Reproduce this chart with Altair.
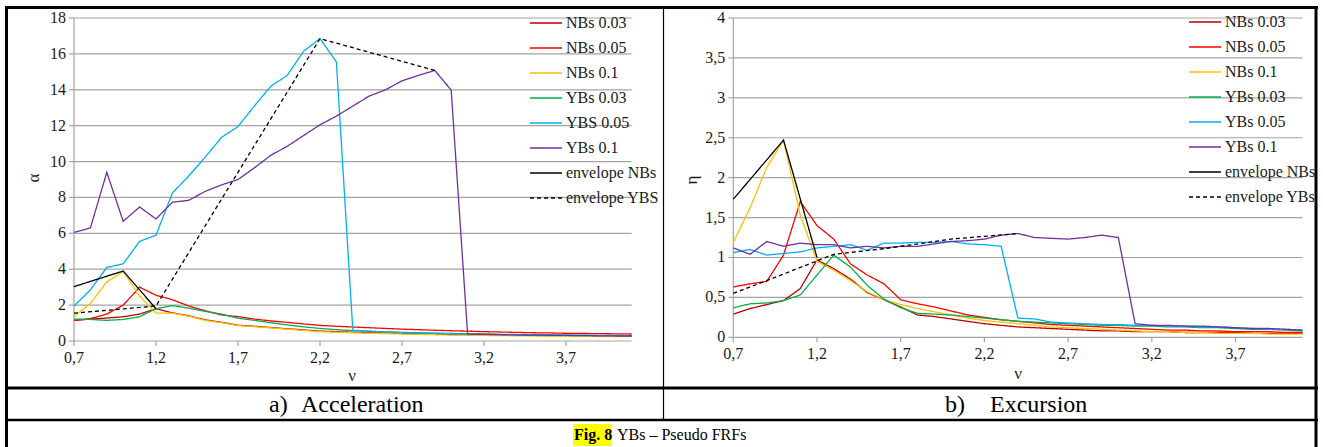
import altair as alt
import pandas as pd

# ---------------------------------------------------------------- data
NU = [0.7, 0.8, 0.9, 1.0, 1.1, 1.2, 1.3, 1.4, 1.5, 1.6, 1.7, 1.8, 1.9, 2.0,
      2.1, 2.2, 2.3, 2.4, 2.5, 2.6, 2.7, 2.8, 2.9, 3.0, 3.1, 3.2, 3.3, 3.4,
      3.5, 3.6, 3.7, 3.8, 3.9, 4.0, 4.1]

# a) Acceleration (alpha)
ACC_NBS_003 = [1.15, 1.22, 1.28, 1.35, 1.5, 1.8, 1.57, 1.4, 1.18, 1.04, 0.88, 0.82,
               0.75, 0.68, 0.62, 0.55, 0.52, 0.49, 0.46, 0.44, 0.42, 0.4, 0.38, 0.36,
               0.35, 0.34, 0.33, 0.32, 0.31, 0.3, 0.29, 0.28, 0.28, 0.27, 0.27]
ACC_NBS_005 = [1.15, 1.25, 1.5, 2.0, 3.0, 2.55, 2.3, 1.95, 1.68, 1.45, 1.36, 1.22,
               1.12, 1.04, 0.95, 0.87, 0.82, 0.78, 0.74, 0.7, 0.66, 0.63, 0.6, 0.57,
               0.55, 0.52, 0.5, 0.48, 0.46, 0.45, 0.43, 0.42, 0.41, 0.4, 0.39]
ACC_NBS_01 = [1.35, 2.1, 3.3, 3.88, 2.5, 1.55, 1.55, 1.38, 1.15, 1.02, 0.86, 0.8,
              0.73, 0.66, 0.59, 0.52, 0.49, 0.46, 0.43, 0.41, 0.39, 0.37, 0.35, 0.33,
              0.32, 0.31, 0.3, 0.29, 0.28, 0.27, 0.26, 0.26, 0.25, 0.25, 0.24]
ACC_YBS_003 = [1.22, 1.2, 1.15, 1.2, 1.35, 1.8, 1.97, 1.83, 1.65, 1.5, 1.27, 1.15,
               1.02, 0.9, 0.79, 0.7, 0.63, 0.58, 0.54, 0.51, 0.48, 0.46, 0.44, 0.42,
               0.4, 0.39, 0.37, 0.36, 0.35, 0.34, 0.33, 0.32, 0.31, 0.31, 0.3]
ACC_YBS_005 = [1.95, 2.85, 4.1, 4.3, 5.55, 5.9, 8.25, 9.2, 10.25, 11.35, 11.95, 13.1,
               14.2, 14.8, 16.15, 16.85, 15.55, 0.6, 0.55, 0.5, 0.47, 0.44, 0.42, 0.4,
               0.38, 0.37, 0.36, 0.35, 0.34, 0.33, 0.32, 0.31, 0.3, 0.3, 0.29]
ACC_YBS_01 = [6.05, 6.3, 9.4, 6.67, 7.47, 6.8, 7.73, 7.84, 8.34, 8.7, 9.0, 9.65,
              10.35, 10.85, 11.45, 12.05, 12.53, 13.09, 13.65, 14.0, 14.5, 14.8, 15.08,
              13.98, 0.39, 0.37, 0.35, 0.34, 0.33, 0.32, 0.31, 0.3, 0.29, 0.28, 0.28]
ACC_ENV_NBS_NU = [0.7, 1.0, 1.2]
ACC_ENV_NBS = [3.03, 3.9, 1.8]
ACC_ENV_YBS_NU = [0.7, 1.2, 2.2, 2.9]
ACC_ENV_YBS = [1.55, 1.95, 16.85, 15.08]

# b) Excursion (eta)
EXC_NBS_003 = [0.29, 0.36, 0.41, 0.46, 0.61, 0.97, 0.86, 0.73, 0.56, 0.47, 0.38, 0.28,
               0.26, 0.23, 0.2, 0.17, 0.15, 0.13, 0.12, 0.11, 0.1, 0.09, 0.08, 0.08,
               0.07, 0.07, 0.07, 0.06, 0.06, 0.06, 0.06, 0.05, 0.05, 0.05, 0.05]
EXC_NBS_005 = [0.63, 0.67, 0.7, 1.03, 1.7, 1.4, 1.23, 0.92, 0.78, 0.67, 0.47, 0.42,
               0.38, 0.33, 0.28, 0.25, 0.22, 0.2, 0.18, 0.16, 0.15, 0.14, 0.13, 0.12,
               0.11, 0.1, 0.09, 0.09, 0.08, 0.08, 0.07, 0.07, 0.07, 0.06, 0.06]
EXC_NBS_01 = [1.19, 1.62, 2.13, 2.47, 1.53, 0.95, 0.84, 0.71, 0.57, 0.47, 0.41, 0.36,
              0.32, 0.28, 0.24, 0.21, 0.19, 0.17, 0.15, 0.13, 0.12, 0.11, 0.1, 0.09,
              0.08, 0.07, 0.07, 0.06, 0.06, 0.05, 0.05, 0.05, 0.04, 0.04, 0.04]
EXC_YBS_003 = [0.37, 0.42, 0.43, 0.46, 0.53, 0.78, 1.03, 0.88, 0.65, 0.48, 0.37, 0.3,
               0.29, 0.28, 0.26, 0.24, 0.22, 0.2, 0.19, 0.18, 0.17, 0.16, 0.15, 0.15,
               0.14, 0.14, 0.13, 0.13, 0.12, 0.12, 0.11, 0.1, 0.1, 0.09, 0.08]
EXC_YBS_005 = [1.06, 1.1, 1.03, 1.05, 1.07, 1.12, 1.14, 1.16, 1.09, 1.18, 1.18, 1.19,
               1.19, 1.2, 1.17, 1.16, 1.14, 0.24, 0.23, 0.19, 0.18, 0.17, 0.16, 0.16,
               0.15, 0.15, 0.14, 0.14, 0.13, 0.13, 0.12, 0.11, 0.1, 0.1, 0.09]
EXC_YBS_01 = [1.12, 1.04, 1.2, 1.14, 1.18, 1.16, 1.16, 1.12, 1.14, 1.12, 1.14, 1.14,
              1.17, 1.2, 1.21, 1.23, 1.28, 1.3, 1.25, 1.24, 1.23, 1.25, 1.28, 1.25,
              0.17, 0.15, 0.15, 0.14, 0.14, 0.13, 0.12, 0.11, 0.11, 0.1, 0.09]
EXC_ENV_NBS_NU = [0.7, 1.0, 1.2]
EXC_ENV_NBS = [1.73, 2.47, 1.0]
EXC_ENV_YBS_NU = [0.7, 0.9, 1.3, 1.6, 2.0, 2.4]
EXC_ENV_YBS = [0.55, 0.71, 1.04, 1.11, 1.23, 1.3]

ACC_NAMES = ["NBs 0.03", "NBs 0.05", "NBs 0.1", "YBs 0.03", "YBS 0.05", "YBs 0.1",
             "envelope NBs", "envelope YBS"]
EXC_NAMES = ["NBs 0.03", "NBs 0.05", "NBs 0.1", "YBs 0.03", "YBs 0.05", "YBs 0.1",
             "envelope NBs", "envelope YBs"]

X_TICKS = [0.7, 1.2, 1.7, 2.2, 2.7, 3.2, 3.7]
X_TICK_LABELS = ["0,7", "1,2", "1,7", "2,2", "2,7", "3,2", "3,7"]
ACC_TICKS = [0, 2, 4, 6, 8, 10, 12, 14, 16, 18]
ACC_TICK_LABELS = ["0", "2", "4", "6", "8", "10", "12", "14", "16", "18"]
EXC_TICKS = [0, 0.5, 1, 1.5, 2, 2.5, 3, 3.5, 4]
EXC_TICK_LABELS = ["0", "0,5", "1", "1,5", "2", "2,5", "3", "3,5", "4"]

CAPTION_A = ["a)", "Acceleration"]
CAPTION_B = ["b)", "Excursion"]
FIG_LABEL = "Fig. 8"
FIG_TEXT = "YBs \u2013 Pseudo FRFs"

# ---------------------------------------------------------------- styling
COLORS = ["#C00000", "#FF0000", "#FFC000", "#00B050", "#00B0F0", "#7030A0",
          "#000000", "#000000"]
DASHES = [[1, 0]] * 7 + [[4, 3]]
SERIF = "Liberation Serif, Times New Roman, serif"
GRID = "#A3A3A3"
TXT = "#1a1a1a"
W, H = 1323, 447

ONE = pd.DataFrame({"k": [0]})


def panel(x_rng, y_dom, y_rng, ticks, tick_labels, series, names,
          leg_x, leg_y0, y_title, y_title_pos, x_title_pos):
    xs = alt.Scale(domain=[0.7, 4.1], range=x_rng, nice=False, zero=False)
    ys = alt.Scale(domain=y_dom, range=y_rng, nice=False, zero=False)

    def X(f):
        return alt.X(f, type="quantitative", scale=xs, axis=None)

    def Y(f):
        return alt.Y(f, type="quantitative", scale=ys, axis=None)

    layers = []
    grid = pd.DataFrame({"v": ticks, "lab": tick_labels, "a": 0.7, "b": 4.1})
    layers.append(alt.Chart(grid).mark_rule(color=GRID, strokeWidth=1.2).encode(
        x=X("a"), x2="b", y=Y("v")))
    axis_df = pd.DataFrame({"a": [0.7], "lo": [y_dom[0]], "hi": [y_dom[1]]})
    layers.append(alt.Chart(axis_df).mark_rule(color=GRID, strokeWidth=1.2).encode(
        x=X("a"), y=Y("lo"), y2="hi"))
    layers.append(alt.Chart(grid).mark_rule(color=GRID, strokeWidth=1.2).encode(
        x=alt.value(x_rng[0] - 5), x2=alt.value(x_rng[0]), y=Y("v")))
    layers.append(alt.Chart(grid).mark_text(
        align="right", baseline="middle", font=SERIF, fontSize=16, color=TXT).encode(
        x=alt.value(x_rng[0] - 8), y=Y("v"), text="lab:N"))

    xt = pd.DataFrame({"t": X_TICKS, "lab": X_TICK_LABELS})
    layers.append(alt.Chart(xt).mark_rule(color=GRID, strokeWidth=1.2).encode(
        x=X("t"), y=alt.value(y_rng[0]), y2=alt.value(y_rng[0] + 5)))
    layers.append(alt.Chart(xt).mark_text(
        align="center", baseline="top", font=SERIF, fontSize=16, color=TXT).encode(
        x=X("t"), y=alt.value(y_rng[0] + 9), text="lab:N"))

    for (nu, vals), c, d in zip(series, COLORS, DASHES):
        df = pd.DataFrame({"nu": nu, "v": vals})
        layers.append(alt.Chart(df).mark_line(
            color=c, strokeWidth=1.3, strokeDash=d).encode(x=X("nu"), y=Y("v")))

    for i, (name, c, d) in enumerate(zip(names, COLORS, DASHES)):
        yy = leg_y0 + 25 * i
        layers.append(alt.Chart(ONE).mark_rule(
            color=c, strokeWidth=1.3, strokeDash=d).encode(
            x=alt.value(leg_x), x2=alt.value(leg_x + 32), y=alt.value(yy)))
        layers.append(alt.Chart(pd.DataFrame({"s": [name]})).mark_text(
            align="left", baseline="middle", font=SERIF, fontSize=16, color=TXT).encode(
            x=alt.value(leg_x + 36), y=alt.value(yy), text="s:N"))

    layers.append(alt.Chart(pd.DataFrame({"s": [y_title]})).mark_text(
        angle=270, align="center", baseline="middle", font=SERIF, fontSize=17,
        color=TXT).encode(x=alt.value(y_title_pos[0]), y=alt.value(y_title_pos[1]),
                          text="s:N"))
    layers.append(alt.Chart(pd.DataFrame({"s": ["\u03bd"]})).mark_text(
        align="center", baseline="middle", font=SERIF, fontSize=17,
        color=TXT).encode(x=alt.value(x_title_pos[0]), y=alt.value(x_title_pos[1]),
                          text="s:N"))
    return layers


acc_series = [(NU, ACC_NBS_003), (NU, ACC_NBS_005), (NU, ACC_NBS_01),
              (NU, ACC_YBS_003), (NU, ACC_YBS_005), (NU, ACC_YBS_01),
              (ACC_ENV_NBS_NU, ACC_ENV_NBS), (ACC_ENV_YBS_NU, ACC_ENV_YBS)]
exc_series = [(NU, EXC_NBS_003), (NU, EXC_NBS_005), (NU, EXC_NBS_01),
              (NU, EXC_YBS_003), (NU, EXC_YBS_005), (NU, EXC_YBS_01),
              (EXC_ENV_NBS_NU, EXC_ENV_NBS), (EXC_ENV_YBS_NU, EXC_ENV_YBS)]

left = panel([74, 631.6], [0, 18], [341, 18], ACC_TICKS, ACC_TICK_LABELS,
             acc_series, ACC_NAMES, 530, 23, "\u03b1", (34, 178), (352, 376))
right = panel([733.3, 1302.5], [0, 4], [337.3, 18], EXC_TICKS, EXC_TICK_LABELS,
              exc_series, EXC_NAMES, 1189, 22, "\u03b7", (692, 180), (1018, 374))


def hline(y, x1, x2, w):
    return alt.Chart(ONE).mark_rule(color="black", strokeWidth=w).encode(
        x=alt.value(x1), x2=alt.value(x2), y=alt.value(y))


def vline(x, y1, y2, w):
    return alt.Chart(ONE).mark_rule(color="black", strokeWidth=w).encode(
        x=alt.value(x), y=alt.value(y1), y2=alt.value(y2))


frame = [
    hline(7.5, 5, 1318, 3), vline(6.5, 6, 447, 3), vline(1316, 6, 447, 3),
    hline(388, 5, 1318, 3), hline(420, 5, 1318, 2.5), vline(663.5, 7, 420, 1.2),
]


def label(text, x, y, size, align="left", weight="normal"):
    return alt.Chart(pd.DataFrame({"s": [text]})).mark_text(
        align=align, baseline="middle", font=SERIF, fontSize=size, color="black",
        fontWeight=weight).encode(x=alt.value(x), y=alt.value(y), text="s:N")


captions = [
    label(CAPTION_A[0], 269, 405, 24), label(CAPTION_A[1], 301, 405, 24),
    label(CAPTION_B[0], 945, 405, 24), label(CAPTION_B[1], 990, 405, 24),
    alt.Chart(ONE).mark_rect(color="#FFFF00").encode(
        x=alt.value(573), x2=alt.value(612), y=alt.value(424), y2=alt.value(446)),
    label(FIG_LABEL, 574, 435, 16, weight="bold"),
    label(FIG_TEXT, 617, 435, 16),
]

chart = alt.layer(*left, *right, *frame, *captions).resolve_scale(
    x="independent", y="independent"
).properties(
    width=W, height=H, padding=0, autosize=alt.AutoSizeParams(type="none"),
    background="white"
).configure_view(stroke=None)

chart.save("out.html", embed_options={"renderer": "svg", "actions": False})
